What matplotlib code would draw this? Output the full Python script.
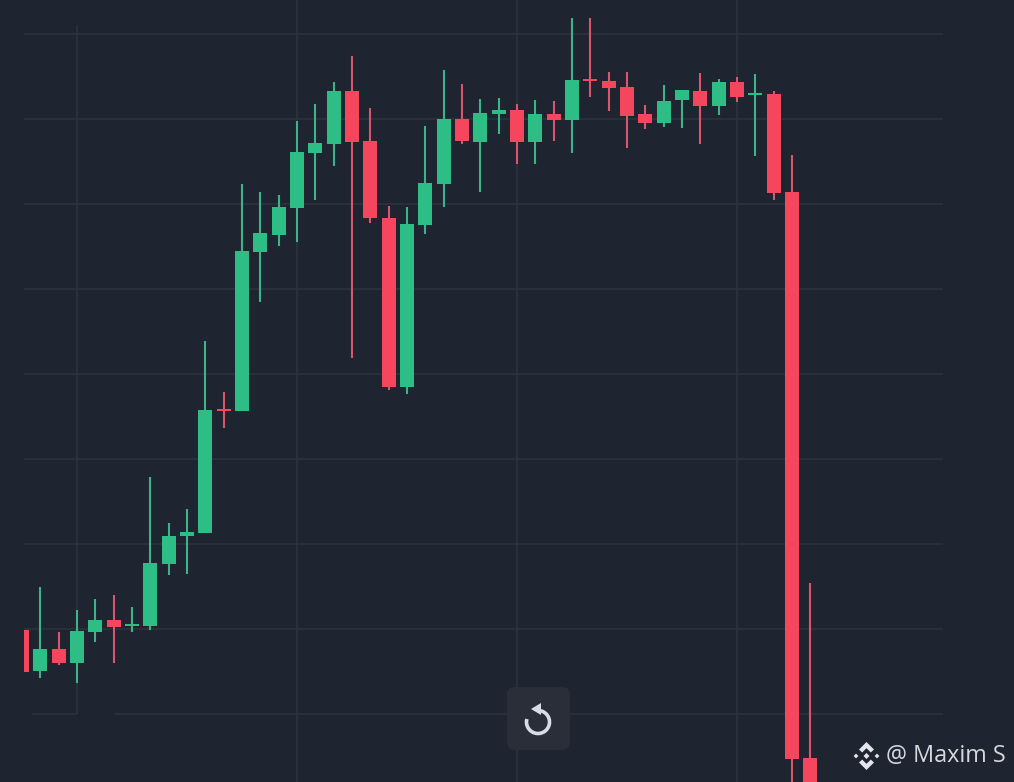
import numpy as np
import matplotlib
matplotlib.use("Agg")
import matplotlib.pyplot as plt
from matplotlib.patches import FancyBboxPatch, Polygon, Arc

# -----------------------------
# Candle data (no price labels on the chart, so the scale is relative)
# -----------------------------

opens = [370, 329, 351, 337, 368, 380, 374, 374, 436, 464, 467, 591, 589, 748, 765, 792, 847, 856, 909, 859, 782, 613,
         775, 816, 881, 858, 886, 890, 858, 886, 880, 921, 919, 913, 886, 877, 900, 909, 894, 918, 905, 906, 808, 242]
closes = [328, 351, 337, 369, 380, 373, 376, 437, 464, 468, 590, 589, 749, 767, 793, 848, 857, 909, 858, 782, 613, 776,
          817, 881, 859, 887, 890, 858, 886, 880, 920, 919, 912, 884, 877, 899, 910, 894, 918, 903, 907, 807, 241, 170]
highs = [370, 413, 368, 390, 401, 405, 393, 523, 477, 491, 659, 608, 816, 808, 805, 879, 896, 918, 944, 892, 794, 793,
         874, 930, 916, 901, 902, 896, 900, 899, 982, 982, 928, 928, 895, 915, 910, 927, 921, 923, 926, 909, 845, 417]
lows = [328, 322, 335, 317, 358, 337, 368, 370, 425, 426, 467, 572, 589, 698, 754, 758, 800, 834, 642, 777, 610, 606,
        766, 793, 856, 808, 866, 836, 836, 859, 847, 903, 889, 852, 871, 873, 872, 856, 885, 898, 844, 800, 200, 150]

price_grid = [286, 371, 456, 541, 626, 711, 796, 881, 966]
time_grid = [3, 15, 27, 39]

BG = "#1e2430"
GRID = "#2d333d"
UP = "#2ebd85"
DOWN = "#f6465d"
UP_WICK = "#3cb48a"
DOWN_WICK = "#d9566b"

# -----------------------------
# Chart
# -----------------------------

fig = plt.figure(figsize=(10.14, 7.82), dpi=100, facecolor=BG)
ax = fig.add_axes([24 / 1014, 0, (943 - 24) / 1014, 1])
ax.set_facecolor(BG)
ax.set_xlim(0.11, 50.24)
ax.set_ylim(218, 1000)
ax.axis("off")

for p in price_grid[1:]:
    ax.axhline(p, color=GRID, lw=1.2, zorder=1)
ax.hlines([price_grid[0]] * 2, [0.56, 5.07], [3, 50.24], color=GRID, lw=1.2, zorder=1)

ax.vlines(time_grid[0], price_grid[0], 975, color=GRID, lw=1.2, zorder=1)
for t in time_grid[1:]:
    ax.axvline(t, color=GRID, lw=1.2, zorder=1)

x = np.arange(len(opens))
up = np.array(closes) >= np.array(opens)
body_colors = [UP if u else DOWN for u in up]
wick_colors = [UP_WICK if u else DOWN_WICK for u in up]

ax.vlines(x, lows, highs, colors=wick_colors, lw=1.5, zorder=2)
bottoms = np.minimum(opens, closes)
heights = np.abs(np.array(closes) - np.array(opens))
ax.bar(x, heights, bottom=bottoms, width=0.77, color=body_colors, zorder=3)

# -----------------------------
# Replay button and watermark
# -----------------------------

over = fig.add_axes([0, 0, 1, 1])
over.set_xlim(0, 1014)
over.set_ylim(782, 0)
over.axis("off")

over.add_patch(FancyBboxPatch((507, 687), 63, 63, boxstyle="round,pad=0,rounding_size=8", lw=0, fc="#2a2e39", zorder=5))
icon = "#d8dce3"
over.add_patch(Arc((538, 722), 23, 23, theta1=270, theta2=555, color=icon, lw=2.6, zorder=6))
over.add_patch(Polygon([(531, 709), (541, 703), (541, 715)], fc=icon, lw=0, zorder=6))

logo = "#e3e6ea"
for cx, cy, r in [(866.5, 756, 3), (856, 756, 2.4), (877, 756, 2.4)]:
    over.add_patch(Polygon([(cx, cy - r), (cx + r, cy), (cx, cy + r), (cx - r, cy)], fc=logo, lw=0, zorder=6))
over.add_patch(Polygon([(866.5, 742), (874, 749.5), (870.8, 752.5), (866.5, 748.2), (862.2, 752.5), (859, 749.5)],
                       fc=logo, lw=0, zorder=6))
over.add_patch(Polygon([(866.5, 770), (874, 762.5), (870.8, 759.5), (866.5, 763.8), (862.2, 759.5), (859, 762.5)],
                       fc=logo, lw=0, zorder=6))
over.text(886, 755.5, "@ Maxim S", color="#d5d8dd", fontsize=16.8, family="Open Sans", va="center", ha="left", zorder=6)

fig.savefig("out.png", dpi=100, facecolor=BG)
plt.close()
